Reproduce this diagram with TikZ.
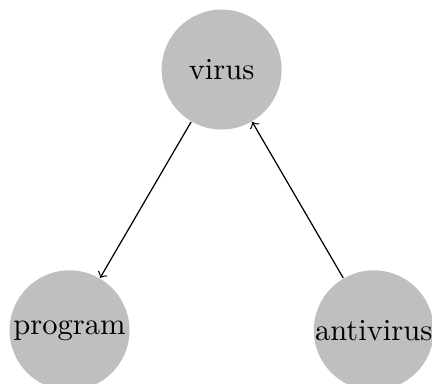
\documentclass[tikz,border=0pt]{standalone}
\usepackage{tikz}
\usetikzlibrary{arrows}
\usetikzlibrary{positioning}
\begin{document}
\begin{tikzpicture}[blob/.style={circle, fill=black!25, inner sep=0pt, minimum size=1.38cm}]
\useasboundingbox (-2.55,-3.61) rectangle (2.42,0.80);
\node[blob] (virus) at (0,0) {virus};
\node[blob] (program) at (-1.75,-3) {program};
\node[blob] (antivirus) at (1.75,-3) {antivirus};
\draw[->] (virus) -- (program);
\draw[->] (antivirus) -- (virus);
\end{tikzpicture}
\end{document}
